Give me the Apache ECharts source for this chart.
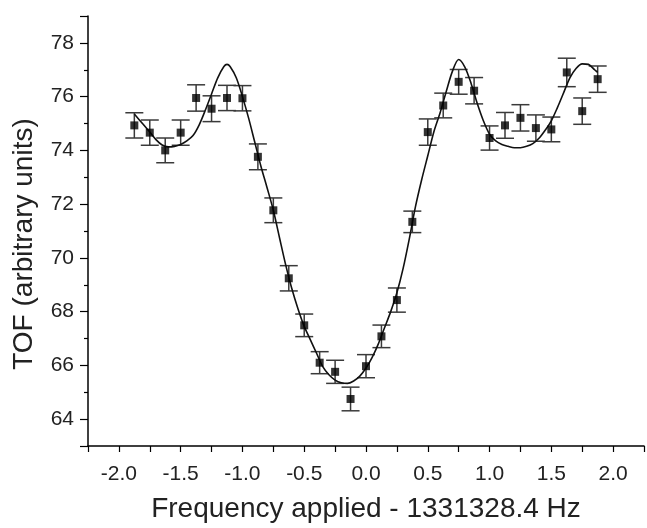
<!DOCTYPE html>
<html>
<head>
<meta charset="utf-8">
<script src="https://cdn.jsdelivr.net/npm/echarts@6/dist/echarts.min.js"></script>
<style>
  html, body { margin: 0; padding: 0; background: #fff; }
  #chart { width: 647px; height: 528px; }
</style>
</head>
<body>
<div id="chart"></div>
<script>
// measured points (frequency offset, TOF, error)
var freq = [-1.875, -1.75, -1.625, -1.5, -1.375, -1.25, -1.125, -1.0,
            -0.875, -0.75, -0.625, -0.5, -0.375, -0.25, -0.125, 0.0,
            0.125, 0.25, 0.375, 0.5, 0.625, 0.75, 0.875, 1.0,
            1.125, 1.25, 1.375, 1.5, 1.625, 1.75, 1.875];
var tof = [74.93, 74.66, 74.00, 74.66, 75.95, 75.55, 75.95, 75.94,
           73.76, 71.77, 69.24, 67.49, 66.10, 65.76, 64.75, 65.97,
           67.08, 68.43, 71.34, 74.68, 75.67, 76.55, 76.22, 74.46,
           74.93, 75.21, 74.83, 74.78, 76.90, 75.46, 76.65];
var tofErr = [0.47, 0.47, 0.46, 0.47, 0.49, 0.48, 0.47, 0.47,
              0.48, 0.46, 0.47, 0.42, 0.41, 0.43, 0.44, 0.43,
              0.42, 0.45, 0.40, 0.49, 0.46, 0.46, 0.49, 0.45,
              0.48, 0.49, 0.49, 0.46, 0.53, 0.49, 0.49];

// fitted curve
var fitX = [-1.875, -1.8, -1.75, -1.7, -1.65, -1.6, -1.55, -1.5, -1.45, -1.4,
            -1.35, -1.3, -1.25, -1.2, -1.15, -1.125, -1.1, -1.05, -1.0, -0.95,
            -0.9, -0.85, -0.8, -0.75, -0.7, -0.65, -0.6, -0.55, -0.5, -0.45,
            -0.4, -0.35, -0.3, -0.25, -0.2, -0.15, -0.1, -0.05, 0.0, 0.05,
            0.1, 0.15, 0.2, 0.25, 0.3, 0.35, 0.4, 0.45, 0.5, 0.55,
            0.6, 0.65, 0.7, 0.75, 0.8, 0.85, 0.9, 0.95, 1.0, 1.05,
            1.1, 1.15, 1.2, 1.25, 1.3, 1.35, 1.4, 1.45, 1.5, 1.55,
            1.6, 1.65, 1.7, 1.75, 1.8, 1.85, 1.875];
var fitY = [75.35, 74.95, 74.68, 74.40, 74.20, 74.13, 74.15, 74.22, 74.35, 74.55,
            74.95, 75.50, 76.10, 76.70, 77.12, 77.20, 77.12, 76.70, 76.00, 75.20,
            74.30, 73.40, 72.60, 71.77, 70.75, 69.74, 68.85, 68.10, 67.45, 66.95,
            66.45, 65.95, 65.65, 65.45, 65.35, 65.33, 65.42, 65.60, 65.90, 66.30,
            66.80, 67.40, 68.00, 68.70, 69.60, 70.70, 71.90, 72.90, 73.80, 74.70,
            75.40, 76.20, 76.95, 77.38, 77.10, 76.50, 75.75, 75.10, 74.60, 74.35,
            74.22, 74.15, 74.10, 74.10, 74.15, 74.25, 74.45, 74.75, 75.10, 75.60,
            76.15, 76.70, 77.05, 77.22, 77.20, 77.00, 76.90];

var points = [], bars = [], fit = [];
for (var i = 0; i < freq.length; i++) {
    points.push([freq[i], tof[i]]);
    bars.push([freq[i], tof[i] - tofErr[i], tof[i] + tofErr[i]]);
}
for (var j = 0; j < fitX.length; j++) {
    fit.push([fitX[j], fitY[j]]);
}

var txt = '#222';
var font = 'Liberation Sans, Arial, sans-serif';

var myChart = echarts.init(document.getElementById('chart'));
var option = {
    animation: false,
    backgroundColor: '#fff',
    grid: { left: 88, top: 16, right: -6, bottom: 80 },
    xAxis: {
        type: 'value',
        min: -2.25,
        max: 2.25,
        interval: 0.25,
        name: 'Frequency applied - 1331328.4 Hz',
        nameLocation: 'middle',
        nameGap: 49,
        nameTextStyle: { color: txt, fontSize: 28, fontFamily: font },
        axisLine: { onZero: false, lineStyle: { color: '#000', width: 1.5 } },
        axisTick: { length: 6, lineStyle: { color: '#000', width: 1.2 } },
        axisLabel: {
            color: txt, fontSize: 21, fontFamily: font, margin: 18,
            formatter: function (v) {
                return Math.abs(v * 2 - Math.round(v * 2)) < 1e-6 ? v.toFixed(1) : '';
            }
        },
        splitLine: { show: false }
    },
    yAxis: {
        type: 'value',
        min: 63,
        max: 79,
        splitNumber: 8,
        name: 'TOF (arbitrary units)',
        nameLocation: 'middle',
        nameGap: 50,
        nameTextStyle: { color: txt, fontSize: 28, fontFamily: font, padding: [0, 26, 0, 0] },
        axisLine: { show: true, onZero: false, lineStyle: { color: '#000', width: 1.5 } },
        axisTick: { length: 8, lineStyle: { color: '#000', width: 1.2 } },
        minorTick: { show: true, splitNumber: 2, length: 4, lineStyle: { color: '#000', width: 1.2 } },
        axisLabel: {
            color: txt, fontSize: 21, fontFamily: font, margin: 14,
            showMinLabel: false, showMaxLabel: false
        },
        splitLine: { show: false }
    },
    series: [
        {
            name: 'error',
            type: 'custom',
            data: bars,
            z: 2,
            renderItem: function (params, api) {
                var x = api.value(0);
                var top = api.coord([x, api.value(2)]);
                var bot = api.coord([x, api.value(1)]);
                var half = 9;
                var style = { stroke: '#3a3a3a', lineWidth: 1.5 };
                return {
                    type: 'group',
                    children: [
                        { type: 'line', shape: { x1: top[0], y1: top[1], x2: bot[0], y2: bot[1] }, style: style },
                        { type: 'line', shape: { x1: top[0] - half, y1: top[1], x2: top[0] + half, y2: top[1] }, style: style },
                        { type: 'line', shape: { x1: bot[0] - half, y1: bot[1], x2: bot[0] + half, y2: bot[1] }, style: style }
                    ]
                };
            }
        },
        {
            name: 'fit',
            type: 'line',
            data: fit,
            smooth: 0.3,
            showSymbol: false,
            z: 3,
            lineStyle: { color: '#111', width: 1.6 }
        },
        {
            name: 'TOF',
            type: 'scatter',
            data: points,
            symbol: 'rect',
            symbolSize: 8,
            z: 4,
            itemStyle: { color: '#000' }
        }
    ]
};
option && myChart.setOption(option);
</script>
</body>
</html>
